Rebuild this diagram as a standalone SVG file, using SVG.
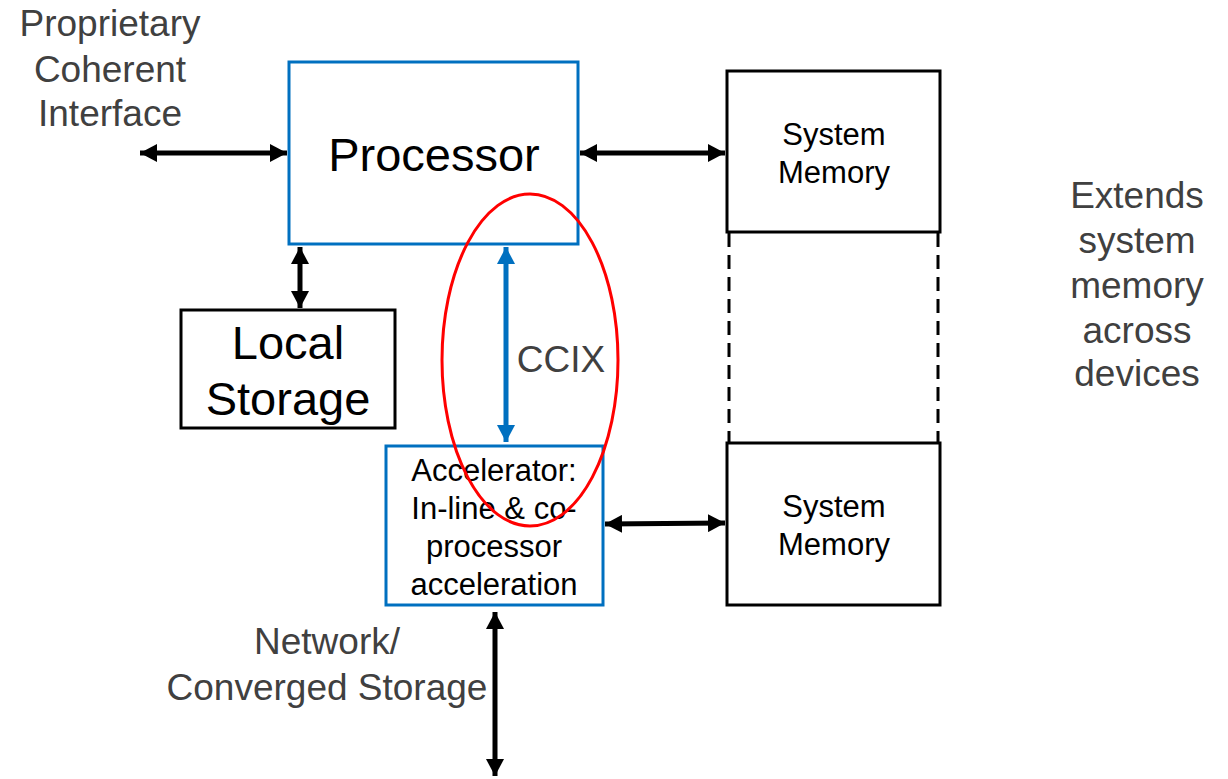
<svg xmlns="http://www.w3.org/2000/svg" width="1228" height="779" viewBox="0 0 1228 779">
<defs>
<style>
.box{fill:#fff;stroke-width:3}
.blue{stroke:#0070C0}
.blk{stroke:#000}
.t{font-family:"Liberation Sans",Arial,sans-serif;text-anchor:middle}
.gray{fill:#404040;font-size:37px}
.dark{fill:#000}
.conn{fill:none;stroke-width:5}
</style>
<marker id="ab" viewBox="0 0 17 18" markerWidth="17" markerHeight="18" refX="17" refY="9" orient="auto-start-reverse" markerUnits="userSpaceOnUse"><path d="M0,0 L17,9 L0,18 z" fill="#000"/></marker>
<marker id="ablue" viewBox="0 0 17 18" markerWidth="17" markerHeight="18" refX="17" refY="9" orient="auto-start-reverse" markerUnits="userSpaceOnUse"><path d="M0,0 L17,9 L0,18 z" fill="#0070C0"/></marker>
</defs>
<rect width="1228" height="779" fill="#fff"/>

<g id="proprietary-label">
<text class="t gray" x="110" y="36">Proprietary</text>
<text class="t gray" x="110" y="82">Coherent</text>
<text class="t gray" x="110" y="126">Interface</text>
</g>

<g id="processor">
<rect class="box blue" x="289" y="62" width="289" height="182"/>
<text class="t dark" x="434" y="171" font-size="47">Processor</text>
</g>

<g id="system-memory-top">
<rect class="box blk" x="727" y="71" width="213" height="161"/>
<text class="t dark" x="834" y="145" font-size="31">System</text>
<text class="t dark" x="834" y="183" font-size="31">Memory</text>
</g>

<g id="memory-extension">
<line x1="729" y1="233" x2="729" y2="442" stroke="#000" stroke-width="3" stroke-dasharray="14 8"/>
<line x1="938" y1="233" x2="938" y2="442" stroke="#000" stroke-width="3" stroke-dasharray="14 8"/>
</g>

<g id="system-memory-bottom">
<rect class="box blk" x="727" y="443" width="213" height="162"/>
<text class="t dark" x="834" y="517" font-size="31">System</text>
<text class="t dark" x="834" y="555" font-size="31">Memory</text>
</g>

<g id="local-storage">
<rect class="box blk" x="181" y="310" width="214" height="118"/>
<text class="t dark" x="288" y="359" font-size="47">Local</text>
<text class="t dark" x="288" y="415" font-size="47">Storage</text>
</g>

<g id="accelerator">
<rect class="box blue" x="386" y="446" width="217" height="159"/>
<text class="t dark" x="494" y="481" font-size="31">Accelerator:</text>
<text class="t dark" x="494" y="519" font-size="31">In-line &amp; co-</text>
<text class="t dark" x="494" y="557" font-size="31">processor</text>
<text class="t dark" x="494" y="595" font-size="31">acceleration</text>
</g>

<g id="ccix-label">
<text class="t gray" x="561" y="372">CCIX</text>
</g>

<g id="network-label">
<text class="t gray" x="327" y="654">Network/</text>
<text class="t gray" x="327" y="700">Converged Storage</text>
</g>

<g id="extends-label">
<text class="t gray" x="1137" y="208">Extends</text>
<text class="t gray" x="1137" y="253">system</text>
<text class="t gray" x="1137" y="298">memory</text>
<text class="t gray" x="1137" y="343">across</text>
<text class="t gray" x="1137" y="386">devices</text>
</g>

<g id="connectors">
<line class="conn" stroke="#000" x1="140" y1="153" x2="287" y2="153" marker-start="url(#ab)" marker-end="url(#ab)"/>
<line class="conn" stroke="#000" x1="580" y1="153" x2="725" y2="153" marker-start="url(#ab)" marker-end="url(#ab)"/>
<line class="conn" stroke="#000" x1="300" y1="247" x2="300" y2="308" marker-start="url(#ab)" marker-end="url(#ab)"/>
<line class="conn" stroke="#0070C0" x1="506" y1="247" x2="506" y2="442" marker-start="url(#ablue)" marker-end="url(#ablue)"/>
<line class="conn" stroke="#000" x1="605" y1="524" x2="725" y2="523" marker-start="url(#ab)" marker-end="url(#ab)"/>
<line class="conn" stroke="#000" x1="495" y1="612" x2="495" y2="776" marker-start="url(#ab)" marker-end="url(#ab)"/>
</g>

<g id="ccix-highlight">
<ellipse cx="530" cy="360" rx="88" ry="166" fill="none" stroke="#FF0000" stroke-width="3"/>
</g>
</svg>
